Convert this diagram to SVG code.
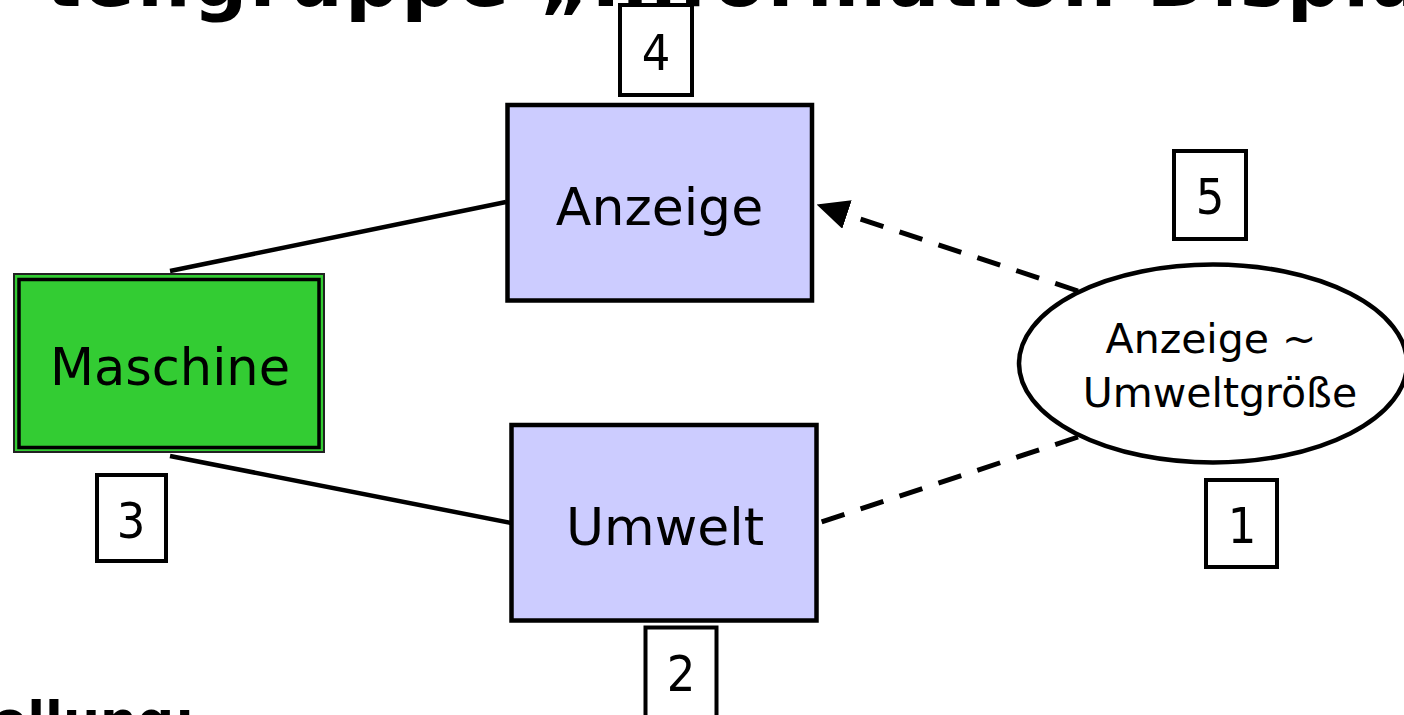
<svg xmlns="http://www.w3.org/2000/svg" width="1404" height="715" viewBox="0 0 1404 715">
<style>
.title{font-family:"DejaVu Sans","Liberation Sans",sans-serif;font-weight:bold;fill:#000}
.lbl{font-family:"DejaVu Sans","Liberation Sans",sans-serif;fill:#000;text-anchor:middle}
.box{fill:#CCCCFF;stroke:#000;stroke-width:4.5}
.num rect{fill:#fff;stroke:#000;stroke-width:4}
.num text{font-family:"DejaVu Sans Condensed","DejaVu Sans","Liberation Sans",sans-serif;font-stretch:condensed;font-size:50px;fill:#000;text-anchor:middle}
.solid{fill:none;stroke:#000;stroke-width:4.5}
.dash{fill:none;stroke:#000;stroke-width:5;stroke-dasharray:24 17}
</style>
<defs>
<marker id="arr" viewBox="0 0 32 30" refX="0" refY="15" markerWidth="32" markerHeight="30" markerUnits="userSpaceOnUse" orient="auto">
<path d="M0,0 L32,15 L0,30 z" fill="#000"/>
</marker>
</defs>
<rect width="1404" height="715" fill="#fff"/>
<text class="title" x="45" y="6" font-size="76" letter-spacing="2">teilgruppe „Information Display“</text>
<text class="title" x="-8" y="738" font-size="52">ellung:</text>
<g id="connectors">
<path class="solid" d="M170,271 L506,202"/>
<path class="solid" d="M170,456 L511,523"/>
<path class="dash" d="M1078,291 L847,214.5" marker-end="url(#arr)"/>
<path class="dash" d="M1078,437 L818,523"/>
</g>
<g id="maschine">
<rect x="14" y="274" width="310" height="178" fill="#33CC33" stroke="#222" stroke-width="2"/>
<rect x="19" y="279.5" width="300" height="168" fill="none" stroke="#000" stroke-width="3.5"/>
<text class="lbl" x="170" y="385" font-size="51">Maschine</text>
</g>
<g id="anzeige">
<rect class="box" x="507.5" y="105" width="304.5" height="195.5"/>
<text class="lbl" x="659.5" y="225" font-size="52">Anzeige</text>
</g>
<g id="umwelt">
<rect class="box" x="511.5" y="425" width="305" height="195.5"/>
<text class="lbl" x="665" y="545" font-size="52">Umwelt</text>
</g>
<g id="relation">
<ellipse cx="1213" cy="363.5" rx="194" ry="99" fill="#fff" stroke="#000" stroke-width="4.5"/>
<text class="lbl" x="1211" y="353" font-size="41">Anzeige ~</text>
<text class="lbl" x="1220" y="407" font-size="41">Umweltgröße</text>
</g>
<g id="n4" class="num"><rect x="620" y="5" width="72" height="90"/><text x="656" y="70">4</text></g>
<g id="n5" class="num"><rect x="1174" y="151" width="72" height="88"/><text x="1210" y="214">5</text></g>
<g id="n1" class="num"><rect x="1206" y="480" width="71" height="87"/><text x="1242" y="543">1</text></g>
<g id="n3" class="num"><rect x="97" y="475" width="69" height="86"/><text x="131" y="538">3</text></g>
<g id="n2" class="num"><rect x="645.5" y="627.5" width="71" height="90"/><text x="681" y="691">2</text></g>
</svg>
